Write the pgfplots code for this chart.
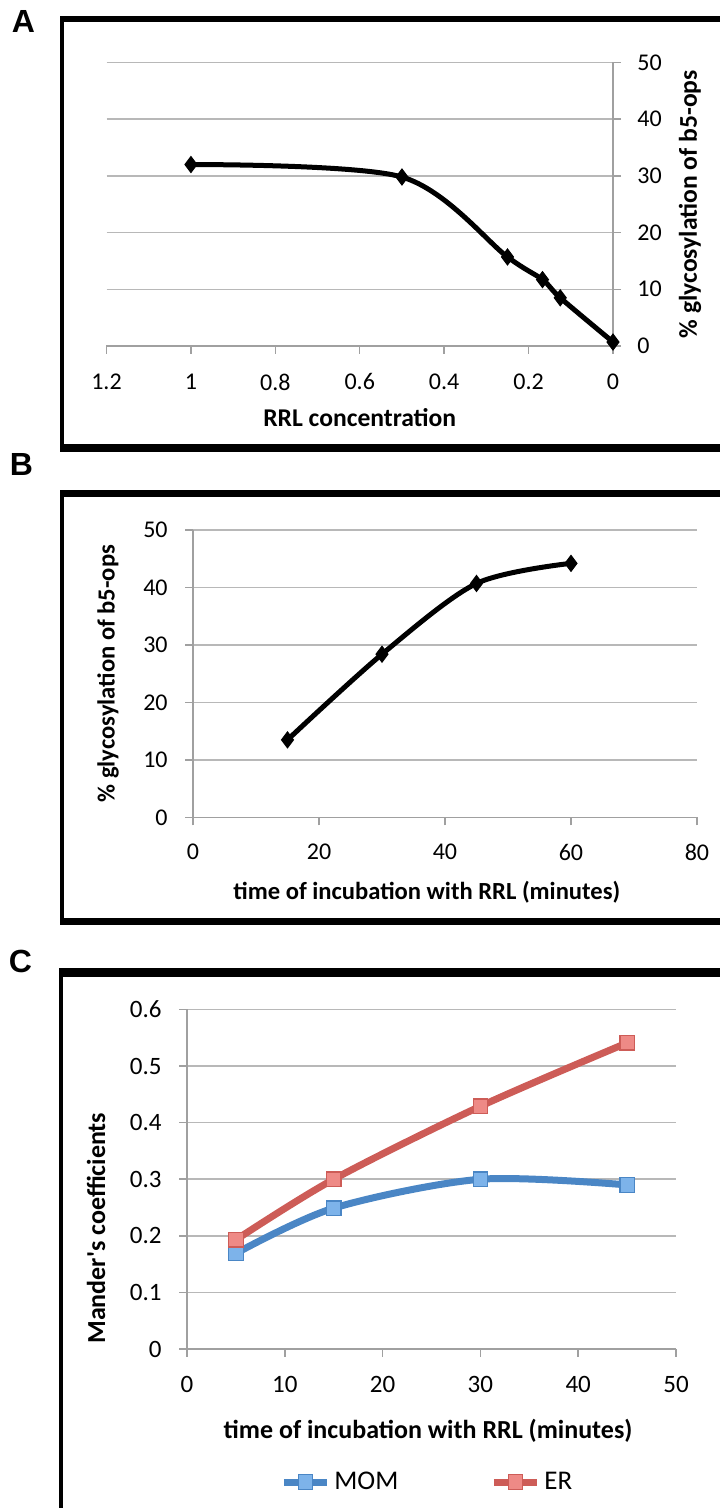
\documentclass[border=0pt]{standalone}
\usepackage{fontspec}
\setmainfont{Carlito}[Ligatures=TeXOff]
\newfontfamily\panelfont{Liberation Sans}
\usepackage{pgfplots}
\pgfplotsset{compat=1.18}

\definecolor{gridgray}{HTML}{B8B8B8}
\definecolor{axgray}{HTML}{A0A0A0}
\definecolor{momline}{HTML}{4A86C5}
\definecolor{momfill}{HTML}{7DB3EA}
\definecolor{erline}{HTML}{CD5C57}
\definecolor{erfill}{HTML}{EE8A86}

\pgfplotsset{
  excel/.style={
    scale only axis,
    clip=false,
    axis line style={axgray, line width=0.75pt},
    ymajorgrids,
    major grid style={gridgray, line width=0.75pt},
    tick style={axgray, line width=0.75pt},
    tick align=outside,
    major tick length=4pt,
    /pgf/number format/assume math mode=true,
    ticklabel style={font=\fontsize{12}{14}\selectfont, inner sep=0pt},
    label style={font=\bfseries\fontsize{12.3}{14}\selectfont, inner sep=0pt},
  }
}

\begin{document}
\begin{tikzpicture}
\useasboundingbox (0,0) rectangle (360pt,754pt);

% panel frames
\fill[black] (30pt,742.75pt) rectangle (360pt,746pt);
\fill[black] (30pt,528pt) rectangle (32pt,746pt);
\fill[black] (30pt,528pt) rectangle (360pt,532pt);
\fill[black] (30pt,505.5pt) rectangle (360pt,509pt);
\fill[black] (30pt,291.5pt) rectangle (32pt,509pt);
\fill[black] (30pt,291.5pt) rectangle (360pt,295pt);
\fill[black] (29.5pt,265.5pt) rectangle (360pt,270pt);
\fill[black] (29.5pt,-2pt) rectangle (31.5pt,270pt);

\node[inner sep=0pt, font=\panelfont\bfseries\fontsize{16}{16}\selectfont] at (11.75pt,743.25pt) {A};
\node[inner sep=0pt, font=\panelfont\bfseries\fontsize{16}{16}\selectfont] at (10.75pt,521.75pt) {B};
\node[inner sep=0pt, font=\panelfont\bfseries\fontsize{16}{16}\selectfont] at (10.25pt,273.5pt) {C};

% A: value axis on the right (grid, y ticks, y label)
\begin{axis}[excel,
  at={(53.25pt,581pt)}, anchor=south west,
  width=253.25pt, height=141.75pt,
  xmin=0, xmax=1, ymin=0, ymax=50,
  ytick={0,10,20,30,40,50},
  axis x line=none, axis y line*=right,
  yticklabel style={anchor=west, xshift=8pt},
  ylabel={\% glycosylation of b5-ops},
  label style={font=\bfseries\fontsize{12.8}{14}\selectfont},
  ylabel style={at={(axis description cs:1.152,0.5)}, anchor=center},
]
\end{axis}

% A: reversed concentration axis and data
\begin{axis}[excel,
  at={(53.25pt,581pt)}, anchor=south west,
  width=253.25pt, height=141.75pt,
  x dir=reverse,
  xmin=0, xmax=1.2, ymin=0, ymax=50,
  ymajorgrids=false,
  xtick={0,0.2,0.4,0.6,0.8,1,1.2},
  axis x line*=bottom, axis y line=none,
  xticklabel style={anchor=center, yshift=-14pt},
  xlabel={RRL concentration},
  label style={font=\bfseries\fontsize{12.8}{14}\selectfont},
  xlabel style={at={(axis description cs:0.5,-0.254)}, anchor=center},
]
\addplot[black, line width=2.5pt, smooth, tension=0.5, mark=diamond*, mark size=4pt,
  mark options={solid, line width=0.5pt}] coordinates {
  (1,32) (0.5,29.8) (0.25,15.7) (0.167,11.7) (0.125,8.5) (0,0.7)
};
\end{axis}

% B
\begin{axis}[excel,
  at={(96.5pt,345.25pt)}, anchor=south west,
  width=252pt, height=143.75pt,
  xmin=0, xmax=80, ymin=0, ymax=50,
  xtick={0,20,40,60,80},
  ytick={0,10,20,30,40,50},
  axis x line*=bottom, axis y line*=left,
  xticklabel style={anchor=center, yshift=-13.25pt},
  yticklabel style={anchor=east, xshift=-8.5pt},
  xlabel={time of incubation with RRL (minutes)},
  ylabel={\% glycosylation of b5-ops},
  xlabel style={at={(axis description cs:0.464,-0.261)}, anchor=center},
  ylabel style={at={(axis description cs:-0.1687,0.5)}, anchor=center},
]
\addplot[black, line width=2.5pt, smooth, tension=0.5, mark=diamond*, mark size=4pt,
  mark options={solid, line width=0.5pt}] coordinates {
  (15,13.5) (30,28.4) (45,40.7) (60,44.2)
};
\end{axis}

% C
\begin{axis}[excel,
  at={(93.5pt,79.5pt)}, anchor=south west,
  width=244.5pt, height=169.75pt,
  xmin=0, xmax=50, ymin=0, ymax=0.6,
  xtick={0,10,20,30,40,50},
  ytick={0,0.1,0.2,0.3,0.4,0.5,0.6},
  axis x line*=bottom, axis y line*=left,
  ticklabel style={font=\fontsize{12.5}{14}\selectfont},
  label style={font=\bfseries\fontsize{13}{15}\selectfont},
  xticklabel style={anchor=center, yshift=-13.5pt},
  yticklabel style={anchor=east, xshift=-8.5pt},
  xlabel={time of incubation with RRL (minutes)},
  ylabel={Mander's coefficients},
  xlabel style={at={(axis description cs:0.493,-0.2415)}, anchor=center},
  ylabel style={at={(axis description cs:-0.1861,0.356)}, anchor=center},
  legend style={at={(axis description cs:0.19,-0.392)}, anchor=west, draw=none, fill=none,
    inner sep=0pt, font=\fontsize{13.5}{15}\selectfont,
    /tikz/every even column/.append style={column sep=44pt}},
  legend columns=2,
  legend cell align=left,
  legend image code/.code={\draw[mark repeat=2, mark phase=2, #1] plot coordinates {(0pt,0pt) (10.75pt,0pt) (21.5pt,0pt)};},
]
\addplot[momline, line width=3.5pt, smooth, tension=0.5, mark=square*, mark size=3.6pt,
  mark options={solid, draw=momline, fill=momfill, line width=0.6pt}] coordinates {
  (5,0.169) (15,0.249) (30,0.300) (45,0.290)
};
\addlegendentry{MOM}
\addplot[erline, line width=3.5pt, smooth, tension=0.5, mark=square*, mark size=3.6pt,
  mark options={solid, draw=erline, fill=erfill, line width=0.6pt}] coordinates {
  (5,0.193) (15,0.300) (30,0.429) (45,0.541)
};
\addlegendentry{ER}
\end{axis}
\end{tikzpicture}
\end{document}
